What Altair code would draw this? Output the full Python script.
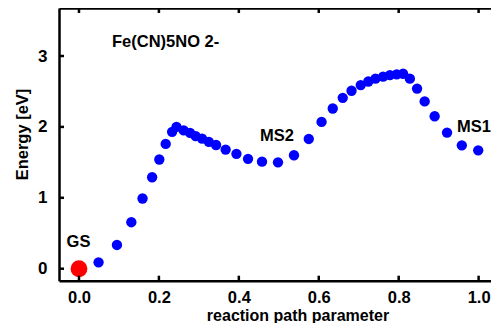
import altair as alt
import pandas as pd

# reaction path parameter and energy (eV) of the blue points
path_x = [0.049, 0.095, 0.131, 0.159, 0.183, 0.201, 0.217, 0.233, 0.244, 0.262,
          0.278, 0.292, 0.308, 0.325, 0.343, 0.367, 0.394, 0.423, 0.458, 0.498,
          0.538, 0.575, 0.607, 0.635, 0.660, 0.682, 0.705, 0.724, 0.742, 0.761,
          0.778, 0.795, 0.811, 0.828, 0.846, 0.865, 0.890, 0.921, 0.958, 0.999]
energy = [0.09, 0.335, 0.656, 0.99, 1.29, 1.54, 1.76, 1.93, 2.00, 1.95,
          1.915, 1.87, 1.835, 1.79, 1.745, 1.68, 1.62, 1.55, 1.51, 1.50,
          1.60, 1.83, 2.07, 2.26, 2.41, 2.51, 2.59, 2.64, 2.68, 2.71,
          2.73, 2.74, 2.75, 2.68, 2.54, 2.36, 2.15, 1.92, 1.74, 1.67]

# ground state
gs_x = [0.0]
gs_e = [0.0]

# annotations
label_text = ["Fe(CN)5NO 2-", "MS2", "MS1", "GS"]
label_x = [0.0826, 0.453, 0.946, -0.031]
label_y = [3.131, 1.797, 1.932, 0.30]

x_ticks = [0.0, 0.2, 0.4, 0.6, 0.8, 1.0]
y_ticks = [0, 1, 2, 3]

FONT = "Liberation Sans"
W = 432
H = 272.7

pts = pd.DataFrame({"x": path_x, "e": energy})
gs = pd.DataFrame({"x": gs_x, "e": gs_e})
lab = pd.DataFrame({"t": label_text, "x": label_x, "y": label_y})
xt = pd.DataFrame({"v": x_ticks})
yt = pd.DataFrame({"v": y_ticks})

xs = alt.Scale(domain=[-0.05, 1.031], nice=False, zero=False)
ys = alt.Scale(domain=[-0.169, 3.677], nice=False, zero=False)

common_axis = dict(domain=True, domainColor="black", domainWidth=2.5,
                   grid=False, ticks=False, tickSize=0)

x_bottom = alt.Axis(orient="bottom", values=x_ticks, format=".1f",
                    labelFont=FONT, labelFontSize=16.5, labelFontWeight="bold",
                    labelColor="black", labelPadding=8.5,
                    title="reaction path parameter", titleFont=FONT,
                    titleFontSize=16, titleFontWeight="bold", titleColor="black",
                    titleX=238.5, titleY=39.5, titleBaseline="alphabetic",
                    titleAnchor="start", titleAlign="center",
                    **common_axis)
y_left = alt.Axis(orient="left", values=y_ticks, format="d",
                  labelFont=FONT, labelFontSize=17, labelFontWeight="bold",
                  labelColor="black", labelPadding=12,
                  title="Energy [eV]", titleFont=FONT, titleFontSize=16.5,
                  titleFontWeight="bold", titleColor="black",
                  titleX=-36.5, titleY=126, titleAngle=270,
                  titleBaseline="middle", titleAlign="center", titleAnchor="start",
                  **common_axis)
x_top = alt.Axis(orient="top", values=x_ticks, labels=False, title=None, **common_axis)

blue = alt.Chart(pts).mark_circle(color="#0000ff", opacity=1, size=107).encode(
    x=alt.X("x:Q", scale=xs, axis=x_bottom),
    y=alt.Y("e:Q", scale=ys, axis=y_left),
)

red = alt.Chart(gs).mark_circle(color="#ff0000", opacity=1, size=283).encode(
    x=alt.X("x:Q", scale=xs, axis=None),
    y=alt.Y("e:Q", scale=ys, axis=None),
)

text = alt.Chart(lab).mark_text(font=FONT, fontSize=16.5, fontWeight="bold",
                                color="black", align="left",
                                baseline="alphabetic").encode(
    x=alt.X("x:Q", scale=xs, axis=None),
    y=alt.Y("y:Q", scale=ys, axis=None),
    text="t:N",
)

top_frame = alt.Chart(gs).mark_circle(opacity=0).encode(
    x=alt.X("x:Q", scale=xs, axis=x_top),
    y=alt.Y("e:Q", scale=ys, axis=None),
)

# inward tick marks on bottom, top and left sides
tick_style = dict(color="black", thickness=2.5, size=5, opacity=1)
t_bottom = alt.Chart(xt).mark_tick(orient="vertical", **tick_style).encode(
    x=alt.X("v:Q", scale=xs, axis=None), y=alt.value(H - 2.5))
t_top = alt.Chart(xt).mark_tick(orient="vertical", **tick_style).encode(
    x=alt.X("v:Q", scale=xs, axis=None), y=alt.value(2.5))
t_left = alt.Chart(yt).mark_tick(orient="horizontal", **tick_style).encode(
    y=alt.Y("v:Q", scale=ys, axis=None), x=alt.value(2.5))

chart = alt.layer(blue, red, text, top_frame, t_bottom, t_top, t_left
).resolve_axis(x="independent", y="independent").properties(
    width=W, height=H,
    autosize=alt.AutoSizeParams(type="none"),
    padding={"left": 51, "top": 0, "right": 0, "bottom": 42.3},
    background="white",
).configure_view(strokeWidth=0)

chart.save("out.html", embed_options={"renderer": "svg", "actions": False})
